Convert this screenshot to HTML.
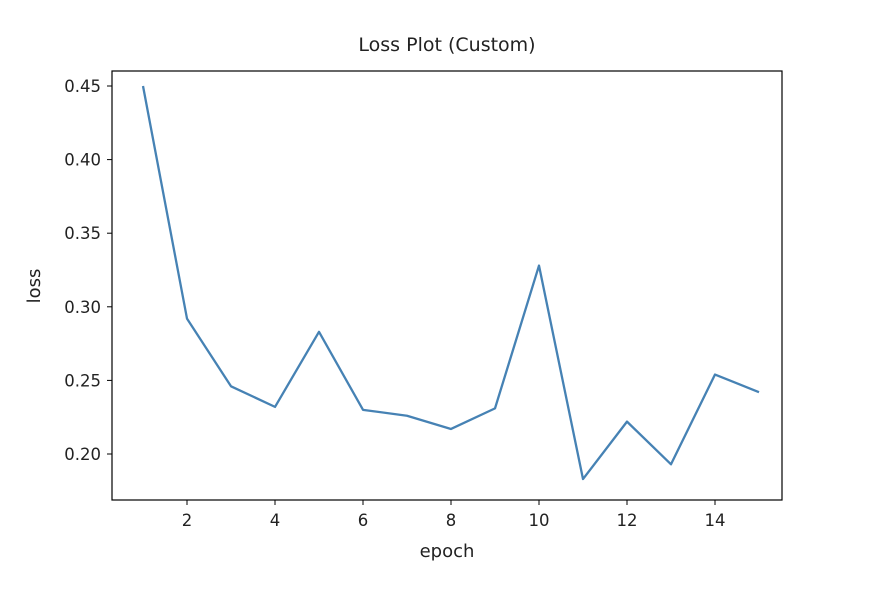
<!DOCTYPE html>
<html><head><meta charset="utf-8"><style>
body{margin:0;background:#fff;width:896px;height:596px;overflow:hidden;font-family:"DejaVu Sans","Liberation Sans",sans-serif}
text{font-family:"DejaVu Sans","Liberation Sans",sans-serif;fill:#222}
</style></head><body>
<svg id="chart" width="896" height="596" xmlns="http://www.w3.org/2000/svg">
<text x="447" y="51" font-size="19" text-anchor="middle">Loss Plot (Custom)</text>
<text x="447" y="557" font-size="18" text-anchor="middle">epoch</text>
<text x="40" y="286" font-size="18" text-anchor="middle" transform="rotate(-90 40 286)">loss</text>
<g id="ticks"></g>
<rect x="112" y="71" width="670" height="429" fill="none" stroke="#000" stroke-width="1.2"/>
</svg>
<script>
const epochs=[1,2,3,4,5,6,7,8,9,10,11,12,13,14,15];
const loss=[0.450,0.292,0.246,0.232,0.283,0.230,0.226,0.217,0.231,0.328,0.183,0.222,0.193,0.254,0.242];
const xTicks=[2,4,6,8,10,12,14];
const yTicks=[0.20,0.25,0.30,0.35,0.40,0.45];
const NS="http://www.w3.org/2000/svg";
const svg=document.getElementById('chart');
const g=document.getElementById('ticks');
const xs=v=>143+(v-1)*44;
const ys=v=>86+(0.45-v)*1472;
function mk(t,a){const e=document.createElementNS(NS,t);for(const k in a)e.setAttribute(k,a[k]);return e;}
xTicks.forEach(v=>{
 const l=mk('line',{x1:xs(v),x2:xs(v),y1:500,y2:505,stroke:'#000'});
 
 
 g.appendChild(l);
 const t=mk('text',{x:xs(v),y:526,'font-size':16.5,'text-anchor':'middle'});
 
 
 t.textContent=v;g.appendChild(t);
});
yTicks.forEach(v=>{
 const l=mk('line',{x1:107,x2:112,y1:ys(v),y2:ys(v),stroke:'#000'});
 
 
 g.appendChild(l);
 const t=mk('text',{x:101,y:ys(v)+6,'font-size':16.5,'text-anchor':'end'});
 
 
 t.textContent=v.toFixed(2);g.appendChild(t);
});
const p=mk('polyline',{points:epochs.map((e,i)=>xs(e)+','+ys(loss[i])).join(' '),fill:'none',stroke:'#4682b4','stroke-width':2.3,'stroke-linejoin':'round'});


svg.appendChild(p);
</script>
</body></html>
